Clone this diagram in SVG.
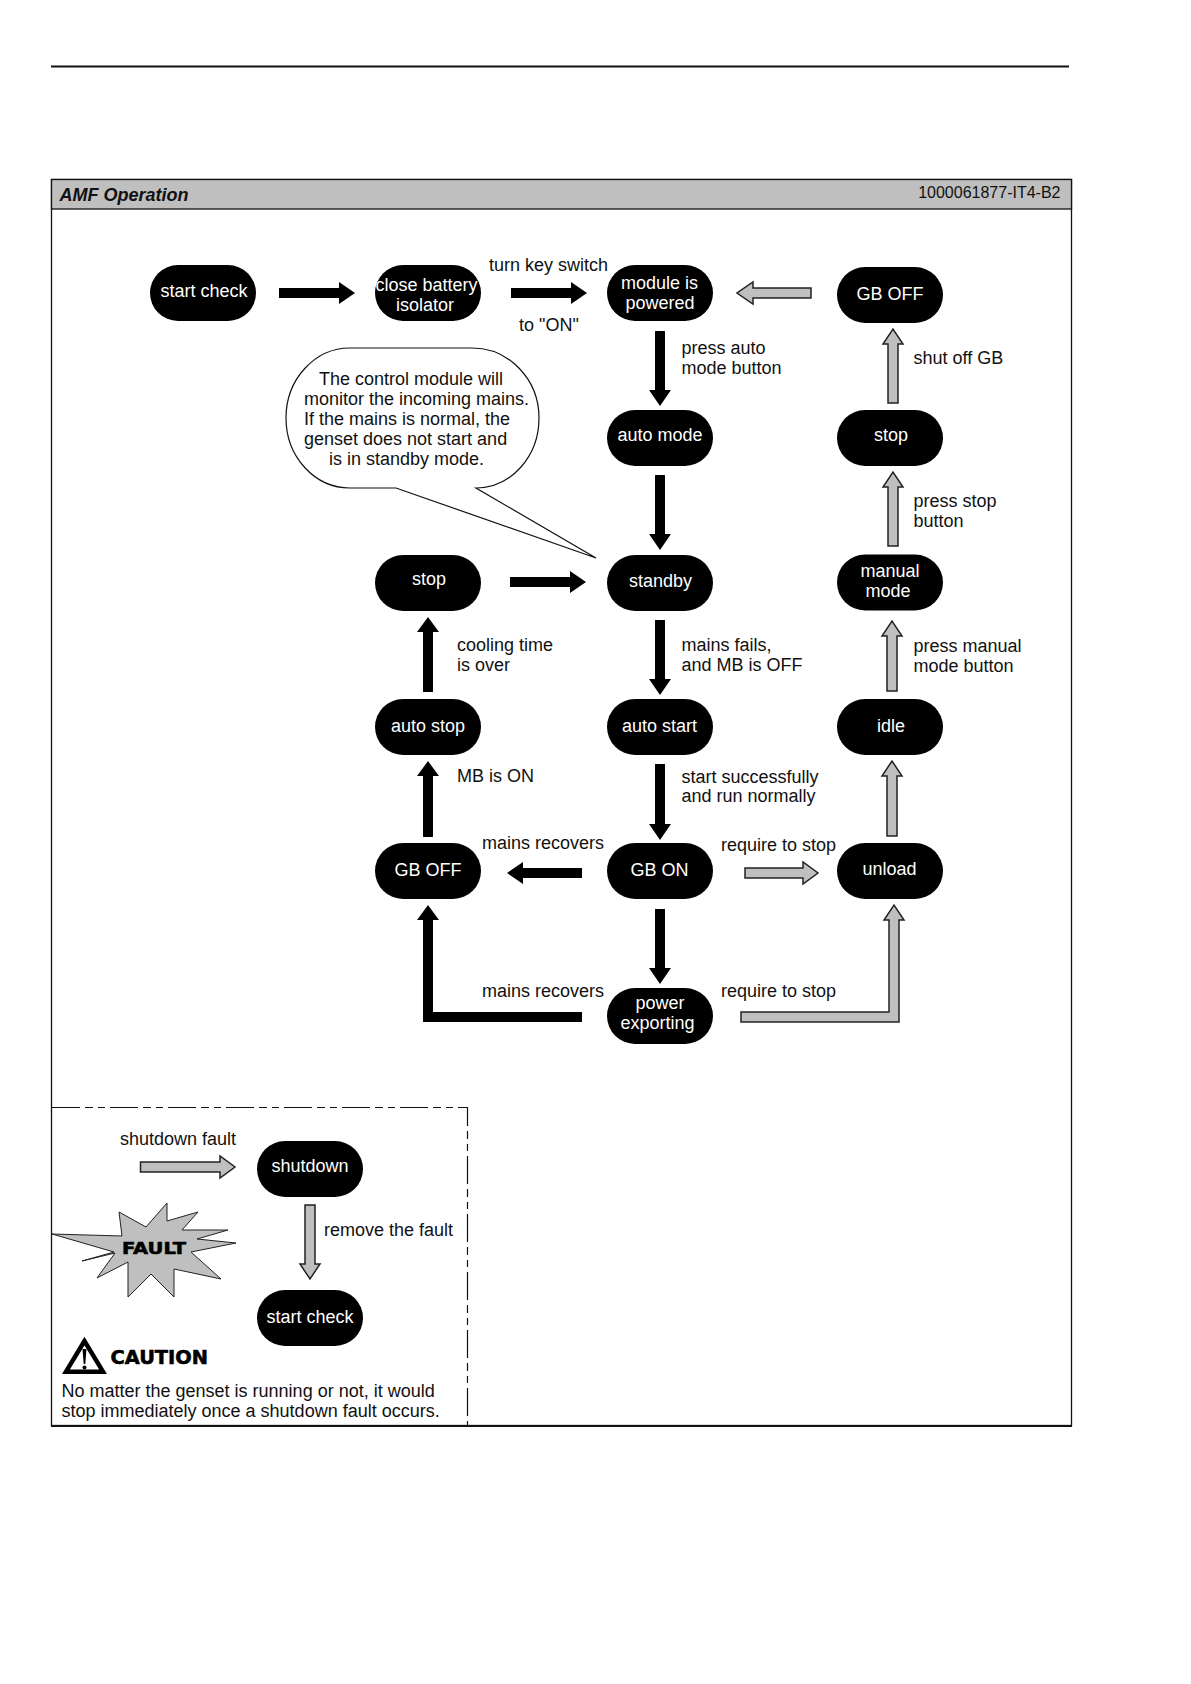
<svg xmlns="http://www.w3.org/2000/svg" width="1191" height="1684" viewBox="0 0 1191 1684">
<style>
text{font-family:"Liberation Sans",Arial,sans-serif;font-size:18px;fill:#111}
.n text{fill:#fff;text-anchor:middle}
.k{fill:#000}
.g{fill:#bfbfbf;stroke:#222;stroke-width:1.5}
.d{fill:none;stroke:#111;stroke-width:1.2;stroke-dasharray:28 5 8 5 7 5}
.h{font-family:"DejaVu Sans",sans-serif;font-weight:bold;stroke:#000;stroke-width:.6;fill:#000}
</style>
<defs>
<rect id="pill" width="106" height="56" rx="28" ry="28" fill="#000"/>
</defs>
<rect width="1191" height="1684" fill="#fff"/>
<g id="frame">
<line x1="51" y1="66.5" x2="1069" y2="66.5" stroke="#111" stroke-width="2"/>
<rect x="51.5" y="179.5" width="1020" height="1246" fill="#fff" stroke="#111" stroke-width="1.3"/>
<rect x="51.5" y="179.5" width="1020" height="29.5" fill="#bfbfbf" stroke="#111" stroke-width="1.3"/>
<line x1="51" y1="1426" x2="1072" y2="1426" stroke="#111" stroke-width="2"/>
<text x="59.5" y="201" font-weight="bold" font-style="italic">AMF Operation</text>
<text x="1060.5" y="198" text-anchor="end" style="font-size:16px">1000061877-IT4-B2</text>
<path class="d" d="M52 1107.5H467.5V1426"/>
</g>
<g id="connectors">
<polygon class="k" points="279,288 339,288 339,282 355,293 339,304 339,298 279,298"/>
<polygon class="k" points="511,288 571,288 571,282 587,293 571,304 571,298 511,298"/>
<polygon class="g" points="811,288 753,288 753,282 737,293 753,304 753,298 811,298"/>
<polygon class="k" points="655,331 665,331 665,390 671,390 660,406 649,390 655,390"/>
<polygon class="k" points="655,475 665,475 665,534 671,534 660,550 649,534 655,534"/>
<polygon class="k" points="655,620 665,620 665,679 671,679 660,695 649,679 655,679"/>
<polygon class="k" points="655,764 665,764 665,824 671,824 660,840 649,824 655,824"/>
<polygon class="k" points="655,909 665,909 665,968 671,968 660,984 649,968 655,968"/>
<polygon class="g" points="888,403 898,403 898,344 903,344 893,329 883,344 888,344"/>
<polygon class="g" points="888,546 898,546 898,487 903,487 893,472 883,487 888,487"/>
<polygon class="g" points="887,691 897,691 897,636 902,636 892,621 882,636 887,636"/>
<polygon class="g" points="887,836 897,836 897,776 902,776 892,761 882,776 887,776"/>
<polygon class="k" points="510,577 570,577 570,571 586,582 570,593 570,587 510,587"/>
<polygon class="k" points="423,692 433,692 433,632 439,632 428,617 417,632 423,632"/>
<polygon class="k" points="423,837 433,837 433,776 439,776 428,761 417,776 423,776"/>
<polygon class="k" points="582,868 523,868 523,862 507,873 523,884 523,878 582,878"/>
<polygon class="g" points="745,868 803,868 803,862 818,873 803,884 803,878 745,878"/>
<polygon class="k" points="582,1012 433,1012 433,920 439,920 428,905 417,920 423,920 423,1022 582,1022"/>
<polygon class="g" points="741,1012 889,1012 889,920 884,920 894,905 904,920 899,920 899,1022 741,1022"/>
<polygon class="g" points="140.5,1162 220,1162 220,1156 235,1167 220,1178 220,1172 140.5,1172"/>
<polygon class="g" points="305,1205 315,1205 315,1264 320,1264 310,1279 300,1264 305,1264"/>
</g>
<g id="labels">
<text x="489" y="271">turn key switch</text>
<text x="549" y="331" text-anchor="middle">to "ON"</text>
<text x="681.5" y="354">press auto</text>
<text x="681.5" y="374">mode button</text>
<text x="913.5" y="364">shut off GB</text>
<text x="913.5" y="506.5">press stop</text>
<text x="913.5" y="526.5">button</text>
<text x="913.5" y="652">press manual</text>
<text x="913.5" y="672">mode button</text>
<text x="681.5" y="651">mains fails,</text>
<text x="681.5" y="671">and MB is OFF</text>
<text x="457" y="651">cooling time</text>
<text x="457" y="671">is over</text>
<text x="681.5" y="782.5">start successfully</text>
<text x="681.5" y="802">and run normally</text>
<text x="457" y="782">MB is ON</text>
<text x="482" y="849">mains recovers</text>
<text x="721" y="851">require to stop</text>
<text x="482" y="997">mains recovers</text>
<text x="721" y="997">require to stop</text>
<text x="120" y="1145">shutdown fault</text>
<text x="324" y="1236">remove the fault</text>
</g>
<g id="callout">
<path d="M596 558L476 488A63 70 0 0 0 539 418A67 70 0 0 0 472 348H350A64 70 0 0 0 286 418A64 70 0 0 0 350 488H396Z" fill="#fff" stroke="#111" stroke-width="1.2"/>
<text x="319" y="385">The control module will</text>
<text x="304" y="405">monitor the incoming mains.</text>
<text x="304" y="425">If the mains is normal, the</text>
<text x="304" y="445">genset does not start and</text>
<text x="329" y="465">is in standby mode.</text>
</g>
<g id="node-start-check" class="n"><use href="#pill" x="150" y="265"/><text x="204" y="296.5">start check</text></g>
<g id="node-close-battery" class="n"><use href="#pill" x="375" y="265"/><text x="426.5" y="291">close battery</text><text x="425" y="311">isolator</text></g>
<g id="node-module-powered" class="n"><use href="#pill" x="607" y="265"/><text x="659.5" y="288.5">module is</text><text x="660" y="308.5">powered</text></g>
<g id="node-gb-off-top" class="n"><use href="#pill" x="837" y="267"/><text x="890" y="300">GB OFF</text></g>
<g id="node-stop-right" class="n"><use href="#pill" x="837" y="410"/><text x="891" y="440.5">stop</text></g>
<g id="node-auto-mode" class="n"><use href="#pill" x="607" y="410"/><text x="660" y="440.5">auto mode</text></g>
<g id="node-standby" class="n"><use href="#pill" x="607" y="555"/><text x="660.5" y="587">standby</text></g>
<g id="node-manual-mode" class="n"><use href="#pill" x="837" y="554.5"/><text x="890" y="577">manual</text><text x="888" y="597">mode</text></g>
<g id="node-stop-left" class="n"><use href="#pill" x="375" y="555"/><text x="429" y="585">stop</text></g>
<g id="node-auto-stop" class="n"><use href="#pill" x="375" y="699"/><text x="428" y="731.5">auto stop</text></g>
<g id="node-auto-start" class="n"><use href="#pill" x="607" y="699"/><text x="659.5" y="731.5">auto start</text></g>
<g id="node-idle" class="n"><use href="#pill" x="837" y="699"/><text x="891" y="731.5">idle</text></g>
<g id="node-gb-off-left" class="n"><use href="#pill" x="375" y="843"/><text x="428" y="876">GB OFF</text></g>
<g id="node-gb-on" class="n"><use href="#pill" x="607" y="843"/><text x="659.5" y="876">GB ON</text></g>
<g id="node-unload" class="n"><use href="#pill" x="837" y="843"/><text x="889.5" y="875">unload</text></g>
<g id="node-power-exporting" class="n"><use href="#pill" x="607" y="988"/><text x="660" y="1009">power</text><text x="657.5" y="1029">exporting</text></g>
<g id="node-shutdown" class="n"><use href="#pill" x="257" y="1141"/><text x="310" y="1171.5">shutdown</text></g>
<g id="node-start-check-2" class="n"><use href="#pill" x="257" y="1290"/><text x="310" y="1322.5">start check</text></g>
<g id="fault">
<polygon points="52,1234 122,1236 119,1212 146,1227 167,1203 167,1221 198,1212 182,1230 228,1230 197,1239 236,1243 191,1252 221,1279 174,1269 174,1297 151,1274 128,1297 128,1262 97,1278 115,1253 82,1261 114,1252" fill="#bfbfbf" stroke="#222" stroke-width="1"/>
<text class="h" x="122" y="1254" textLength="64" lengthAdjust="spacingAndGlyphs" style="font-size:16.5px">FAULT</text>
</g>
<g id="caution">
<polygon points="84.5,1341 66,1371.7 103,1371.7" fill="#fff" stroke="#000" stroke-width="4.5"/>
<polygon points="82.5,1349 86.5,1349 85.3,1364 83.7,1364" fill="#000"/>
<circle cx="84.5" cy="1367.5" r="2" fill="#000"/>
<text class="h" x="110.5" y="1363.5" textLength="97.5" lengthAdjust="spacingAndGlyphs" style="font-size:19.5px">CAUTION</text>
<text x="61.5" y="1396.5">No matter the genset is running or not, it would</text>
<text x="61.5" y="1416.5">stop immediately once a shutdown fault occurs.</text>
</g>
</svg>
